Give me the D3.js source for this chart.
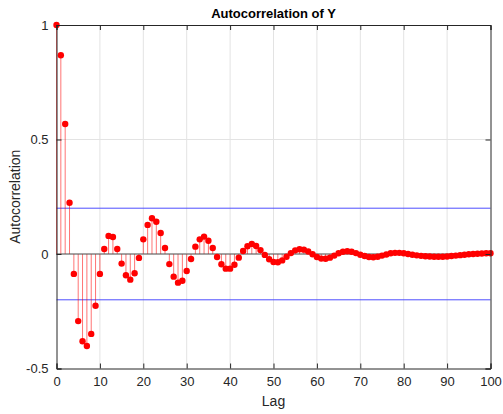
<!DOCTYPE html>
<html><head><meta charset="utf-8">
<script src="https://cdn.jsdelivr.net/npm/d3@7"></script>
<style>body{margin:0;background:#fff}svg{display:block}text{font-family:"Liberation Sans",Arial,sans-serif}</style>
</head><body><svg id="c" width="503" height="414"></svg>
<script>
const lags = d3.range(0, 101);
const acf = [
 1.000, 0.868, 0.568, 0.224, -0.087, -0.293, -0.381, -0.402, -0.349, -0.226,
 -0.087, 0.022, 0.079, 0.074, 0.022, -0.042, -0.093, -0.112, -0.084, -0.017,
 0.064, 0.127, 0.156, 0.141, 0.092, 0.026, -0.044, -0.099, -0.125, -0.117,
 -0.074, -0.022, 0.032, 0.064, 0.076, 0.058, 0.026, -0.013, -0.045, -0.064,
 -0.064, -0.047, -0.016, 0.013, 0.034, 0.044, 0.035, 0.017, -0.004, -0.023,
 -0.035, -0.036, -0.028, -0.012, 0.004, 0.016, 0.021, 0.019, 0.011, -0.001,
 -0.013, -0.020, -0.021, -0.016, -0.007, 0.003, 0.010, 0.012, 0.010, 0.004,
 -0.003, -0.009, -0.013, -0.014, -0.012, -0.007, -0.002, 0.003, 0.005, 0.005,
 0.003, 0.000, -0.003, -0.006, -0.008, -0.010, -0.011, -0.012, -0.012, -0.012,
 -0.011, -0.009, -0.007, -0.005, -0.003, -0.001, 0.000, 0.001, 0.002, 0.003,
 0.003
];
const bounds = [0.2, -0.2];
const xTicks = [0,10,20,30,40,50,60,70,80,90,100];
const yTicks = [-0.5, 0, 0.5, 1];
const yTickLabels = ["-0.5","0","0.5","1"];
const title = "Autocorrelation of Y";
const xLabel = "Lag";
const yLabel = "Autocorrelation";

const svg = d3.select("#c");
const L = 56.5, R = 490.5, T = 25, B = 368.5;
const x = d3.scaleLinear().domain([0,100]).range([L,R]);
const y = d3.scaleLinear().domain([-0.5,1]).range([B,T]);
const axisCol = "#262626";

// grid
const g = svg.append("g");
g.selectAll(".gx").data(xTicks.slice(1,-1)).enter().append("line")
 .attr("x1",d=>x(d)).attr("x2",d=>x(d)).attr("y1",T).attr("y2",B)
 .attr("stroke","#e3e3e3").attr("stroke-width",1);
g.selectAll(".gy").data(yTicks.slice(1,-1)).enter().append("line")
 .attr("y1",d=>y(d)).attr("y2",d=>y(d)).attr("x1",L).attr("x2",R)
 .attr("stroke","#e3e3e3").attr("stroke-width",1);

// confidence bounds
svg.selectAll(".cb").data(bounds).enter().append("line")
 .attr("x1",L).attr("x2",R).attr("y1",d=>y(d)).attr("y2",d=>y(d))
 .attr("stroke","#4d4dff").attr("stroke-width",1);

// stems
svg.selectAll(".st").data(lags).enter().append("line")
 .attr("x1",d=>x(d)).attr("x2",d=>x(d)).attr("y1",y(0)).attr("y2",(d,i)=>y(acf[i]))
 .attr("stroke","#ff0000").attr("stroke-opacity",0.55).attr("stroke-width",1);

// baseline
svg.append("line").attr("x1",L).attr("x2",R).attr("y1",y(0)).attr("y2",y(0))
 .attr("stroke","#555").attr("stroke-width",1);

// markers
svg.selectAll(".mk").data(lags).enter().append("circle")
 .attr("cx",d=>x(d)).attr("cy",(d,i)=>y(acf[i])).attr("r",3.2).attr("fill","#ff0000");

// axes box
const xa = d3.axisBottom(x).tickValues(xTicks).tickSize(-5).tickPadding(8).tickFormat(d3.format("d"));
const xat = d3.axisTop(x).tickValues(xTicks).tickSize(-5).tickFormat("");
const ya = d3.axisLeft(y).tickValues(yTicks).tickSize(-5).tickPadding(8).tickFormat((d,i)=>yTickLabels[i]);
const yar = d3.axisRight(y).tickValues(yTicks).tickSize(-5).tickFormat("");
function style(sel){
  sel.selectAll("path,line").attr("stroke",axisCol).attr("stroke-width",1);
  sel.selectAll("text").attr("fill",axisCol).attr("font-size",13).attr("font-family","Liberation Sans, Arial, sans-serif");
}
svg.append("g").attr("transform",`translate(0,${B})`).call(xa).call(style);
svg.append("g").attr("transform",`translate(0,${T})`).call(xat).call(style);
svg.append("g").attr("transform",`translate(${L},0)`).call(ya).call(style);
svg.append("g").attr("transform",`translate(${R},0)`).call(yar).call(style);

svg.append("text").attr("x",(L+R)/2).attr("y",18).attr("text-anchor","middle")
 .attr("font-weight","bold").attr("font-size",13).attr("fill","#000").text(title);
svg.append("text").attr("x",(L+R)/2).attr("y",406).attr("text-anchor","middle")
 .attr("font-size",14).attr("fill",axisCol).text(xLabel);
svg.append("text").attr("transform",`translate(20,${(T+B)/2}) rotate(-90)`).attr("text-anchor","middle")
 .attr("font-size",14).attr("fill",axisCol).text(yLabel);
</script></body></html>
